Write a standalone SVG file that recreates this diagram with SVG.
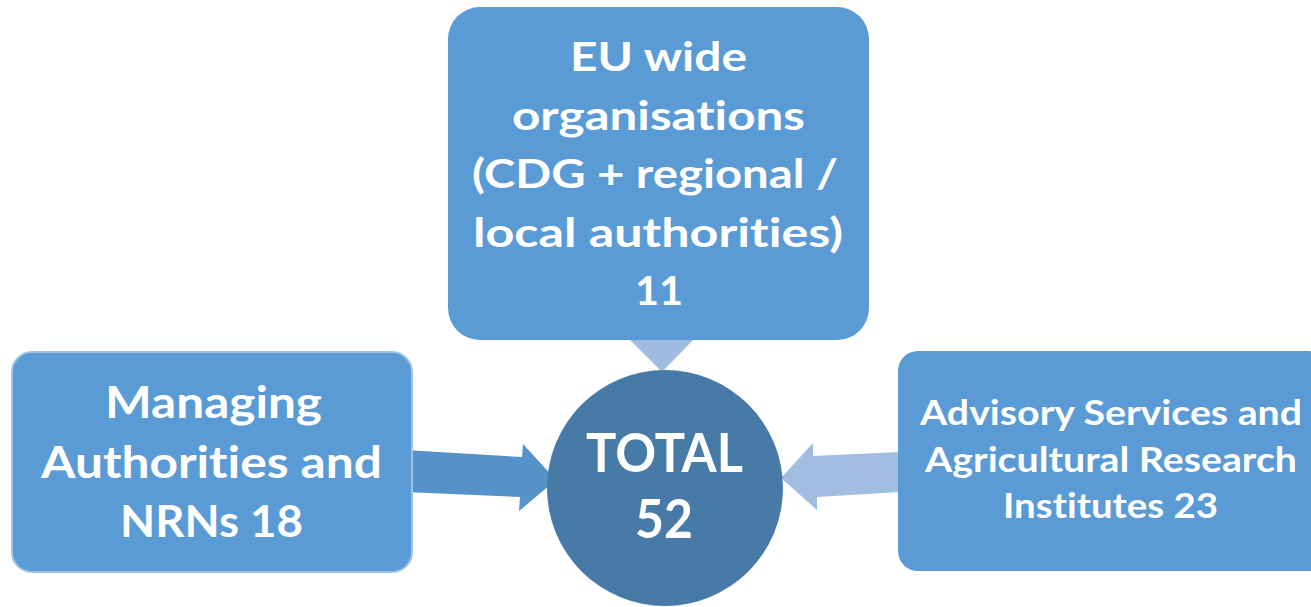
<svg xmlns="http://www.w3.org/2000/svg" width="1311" height="607" viewBox="0 0 1311 607">
<style>
.box{fill:#5B9BD5;}
.t{fill:#FFFFFF;font-family:Lato,"Open Sans","Liberation Sans",sans-serif;font-weight:bold;text-anchor:middle;font-variant-ligatures:none;font-feature-settings:"liga" 0,"clig" 0;}
</style>
<rect width="1311" height="607" fill="#FFFFFF"/>
<g id="connectors">
<polygon id="arrow-top" points="630,340 693,340 662,372" fill="#A0BCE0"/>
<polygon id="arrow-left" points="405,450 522,457 523,444 556,480 519,511 520,497 405,492" fill="#5592CA"/>
<polygon id="arrow-right" points="900,452 813,456 813,443 781,478 817,510 817,497 900,492" fill="#A1BDE1"/>
</g>
<g id="node-top">
<rect class="box" x="448" y="7" width="421" height="333" rx="32"/>
<text class="t" font-size="40" x="658.5" y="71" textLength="177" lengthAdjust="spacingAndGlyphs">EU wide</text>
<text class="t" font-size="40" x="658.5" y="130" textLength="293" lengthAdjust="spacingAndGlyphs">organisations</text>
<text class="t" font-size="40" x="655" y="188" textLength="366" lengthAdjust="spacingAndGlyphs">(CDG + regional /</text>
<text class="t" font-size="40" x="658" y="247" textLength="370" lengthAdjust="spacingAndGlyphs">local authorities)</text>
<text class="t" font-size="40" x="659" y="305" textLength="48" lengthAdjust="spacingAndGlyphs">11</text>
</g>
<g id="node-left">
<rect class="box" x="12" y="352" width="400" height="220" rx="20" stroke="#9DC3E6" stroke-width="2"/>
<text class="t" font-size="43" x="213.5" y="418" textLength="217" lengthAdjust="spacingAndGlyphs">Managing</text>
<text class="t" font-size="43" x="211.5" y="478" textLength="341" lengthAdjust="spacingAndGlyphs">Authorities and</text>
<text class="t" font-size="43" x="211.5" y="537" textLength="183" lengthAdjust="spacingAndGlyphs">NRNs 18</text>
</g>
<g id="node-right">
<rect class="box" x="898" y="351" width="430" height="220" rx="20"/>
<text class="t" font-size="34" x="1111" y="425" textLength="382" lengthAdjust="spacingAndGlyphs">Advisory Services and</text>
<text class="t" font-size="34" x="1111" y="472" textLength="372" lengthAdjust="spacingAndGlyphs">Agricultural Research</text>
<text class="t" font-size="34" x="1110.5" y="518" textLength="215" lengthAdjust="spacingAndGlyphs">Institutes 23</text>
</g>
<g id="node-total">
<circle cx="665" cy="488" r="118" fill="#487AA8"/>
<text class="t" font-size="53" x="664.5" y="472" textLength="157" lengthAdjust="spacingAndGlyphs">TOTAL</text>
<text class="t" font-size="53" x="664" y="538" textLength="58" lengthAdjust="spacingAndGlyphs">52</text>
</g>
</svg>
